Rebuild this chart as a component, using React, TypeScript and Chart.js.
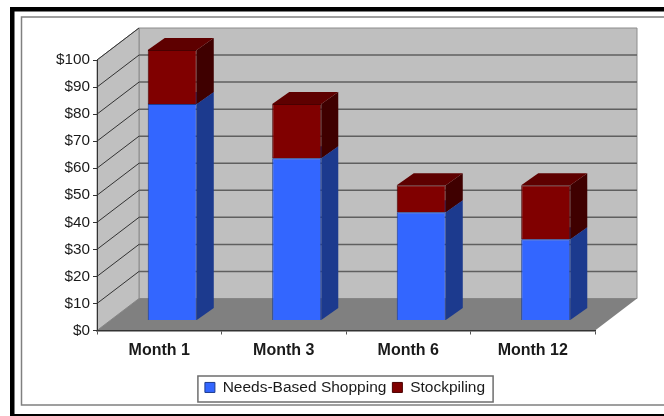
import React, { useEffect, useRef } from "react";
import { Chart, registerables } from "chart.js";

Chart.register(...registerables);

const categories = ["Month 1", "Month 3", "Month 6", "Month 12"];
const needsBased = [80, 60, 40, 30];
const stockpiling = [20, 20, 10, 20];

const WALL_DX = 42;
const WALL_DY = -32;
const BAR_SHIFT_X = 13;
const BAR_SHIFT_Y = -10;
const BAR_DEPTH_X = 17;
const BAR_DEPTH_Y = -12;

const poly = (ctx: CanvasRenderingContext2D, pts: number[][], fill: string, stroke?: string) => {
  ctx.beginPath();
  pts.forEach((p, i) => (i ? ctx.lineTo(p[0], p[1]) : ctx.moveTo(p[0], p[1])));
  ctx.closePath();
  ctx.fillStyle = fill;
  ctx.fill();
  if (stroke) {
    ctx.strokeStyle = stroke;
    ctx.lineWidth = 1;
    ctx.stroke();
  }
};

const scenePlugin = {
  id: "scene",
  afterLayout(chart: any) {
    const legend = chart.legend;
    legend.left = 26;
    legend.right = 664;
    legend.top = 373.7;
    legend.adjustHitBoxes();
  },
  beforeDraw(chart: any) {
    const { ctx, chartArea: a, scales } = chart;
    const W = chart.width;
    const H = chart.height;
    ctx.save();
    ctx.fillStyle = "#ffffff";
    ctx.fillRect(0, 0, W, H);
    // outer frames
    ctx.fillStyle = "#000000";
    ctx.fillRect(10, 7, W - 10, 4.5);
    ctx.fillRect(10, 7, 4.5, H - 7);
    ctx.fillRect(10, 414, W - 10, 2);
    ctx.strokeStyle = "#808080";
    ctx.lineWidth = 1.5;
    ctx.beginPath();
    ctx.moveTo(W, 17);
    ctx.lineTo(21.5, 17);
    ctx.lineTo(21.5, 405);
    ctx.lineTo(W, 405);
    ctx.stroke();

    // walls and floor
    const { left: l, right: r, top: t, bottom: b } = a;
    const d = (p: number[]) => [p[0] + WALL_DX, p[1] + WALL_DY];
    poly(ctx, [[l, t], d([l, t]), d([r, t]), d([r, b]), d([l, b]), [l, b]], "#c0c0c0");
    poly(ctx, [d([l, t]), d([r, t]), d([r, b]), d([l, b])], "#bfbfbf", "#8c8c8c");
    poly(ctx, [[l, t], d([l, t]), d([l, b]), [l, b]], "#c0c0c0", "#8c8c8c");

    // gridlines
    const y = scales.y;
    y.ticks.forEach((tick: any) => {
      const py = y.getPixelForValue(tick.value);
      if (tick.value === 0) return;
      ctx.strokeStyle = "#333333";
      ctx.lineWidth = 1;
      ctx.beginPath();
      ctx.moveTo(l, py);
      ctx.lineTo(l + WALL_DX, py + WALL_DY);
      ctx.stroke();
      if (tick.value === y.max) return;
      ctx.strokeStyle = "#5f5f5f";
      ctx.lineWidth = 1.5;
      ctx.beginPath();
      ctx.moveTo(l + WALL_DX, py + WALL_DY);
      ctx.lineTo(r + WALL_DX, py + WALL_DY);
      ctx.stroke();
    });
    poly(ctx, [[l, b], d([l, b]), d([r, b]), [r, b]], "#808080");

    // legend frame
    const lg = chart.legend;
    const hb = lg.legendHitBoxes;
    if (hb && hb.length) {
      ctx.strokeStyle = "#6e6e6e";
      ctx.lineWidth = 1.5;
      const x0 = hb[0].left - 7;
      const x1 = hb[hb.length - 1].left + hb[hb.length - 1].width + 8;
      ctx.strokeRect(x0, 376, x1 - x0, 26);
    }
    ctx.restore();
  },
  beforeDatasetsDraw(chart: any) {
    const { ctx } = chart;
    const sideColors = ["#1c3a8e", "#3f0000"];
    const topColors = ["#2a4db0", "#5e0000"];
    ctx.save();
    ctx.translate(BAR_SHIFT_X, BAR_SHIFT_Y);
    chart.data.datasets.forEach((_: any, i: number) => {
      chart.getDatasetMeta(i).data.forEach((bar: any) => {
        const x1 = bar.x + bar.width / 2;
        const x0 = bar.x - bar.width / 2;
        const yt = bar.y;
        const yb = bar.base;
        poly(ctx, [[x1, yt], [x1 + BAR_DEPTH_X, yt + BAR_DEPTH_Y], [x1 + BAR_DEPTH_X, yb + BAR_DEPTH_Y], [x1, yb]], sideColors[i]);
        poly(ctx, [[x0, yt], [x0 + BAR_DEPTH_X, yt + BAR_DEPTH_Y], [x1 + BAR_DEPTH_X, yt + BAR_DEPTH_Y], [x1, yt]], topColors[i]);
      });
    });
    ctx.restore();
  },
  beforeDatasetDraw(chart: any) {
    chart.ctx.save();
    chart.ctx.translate(BAR_SHIFT_X, BAR_SHIFT_Y);
  },
  afterDatasetDraw(chart: any) {
    chart.ctx.restore();
  },
};

export default function App() {
  const ref = useRef<HTMLCanvasElement>(null);
  useEffect(() => {
    const chart = new Chart(ref.current as HTMLCanvasElement, {
      type: "bar",
      data: {
        labels: categories,
        datasets: [
          { label: "Needs-Based Shopping", data: needsBased, backgroundColor: "#3366ff", borderColor: "#1c3a8e", borderWidth: 1, clip: false as any },
          { label: "Stockpiling", data: stockpiling, backgroundColor: "#800000", borderColor: "#4a0000", borderWidth: 1, clip: false as any },
        ],
      },
      options: {
        animation: false,
        responsive: false,
        devicePixelRatio: 1,
        categoryPercentage: 1,
        barPercentage: 0.394,
        layout: { padding: { left: 0, right: 69, top: 60, bottom: 14 } },
        plugins: {
          tooltip: { enabled: false },
          title: { display: false },
          legend: {
            display: true,
            position: "bottom",
            onClick: undefined,
            labels: {
              boxWidth: 10,
              boxHeight: 10,
              padding: 6,
              color: "#1a1a1a",
              font: { family: "'Liberation Sans', Arial, sans-serif", size: 15.5 },
            },
          },
        },
        scales: {
          x: {
            stacked: true,
            grid: { drawOnChartArea: false, drawTicks: true, tickLength: 4, color: "#555555", offset: true },
            border: { display: true, color: "#333333", width: 1.5 },
            afterFit(s: any) { s.height = 40; },
            ticks: {
              maxRotation: 0,
              padding: 6,
              color: "#1a1a1a",
              font: { family: "'Liberation Sans', Arial, sans-serif", size: 16, weight: "bold" },
            },
          },
          y: {
            stacked: true,
            min: 0,
            max: 100,
            grid: { drawOnChartArea: false, drawTicks: true, tickLength: 4, color: "#333333" },
            border: { display: true, color: "#333333", width: 1 },
            afterFit(s: any) { s.width = 97; },
            ticks: {
              stepSize: 10,
              padding: 3,
              color: "#1a1a1a",
              font: { family: "'Liberation Sans', Arial, sans-serif", size: 15.3 },
              callback: (v: any) => `$${v}`,
            },
          },
        },
      },
      plugins: [scenePlugin],
    } as any);
    return () => chart.destroy();
  }, []);
  return (
    <canvas
      ref={ref}
      width={664}
      height={416}
      style={{ position: "absolute", left: 0, top: 0, display: "block", width: 664, height: 416, filter: "blur(0.4px)" }}
    />
  );
}
